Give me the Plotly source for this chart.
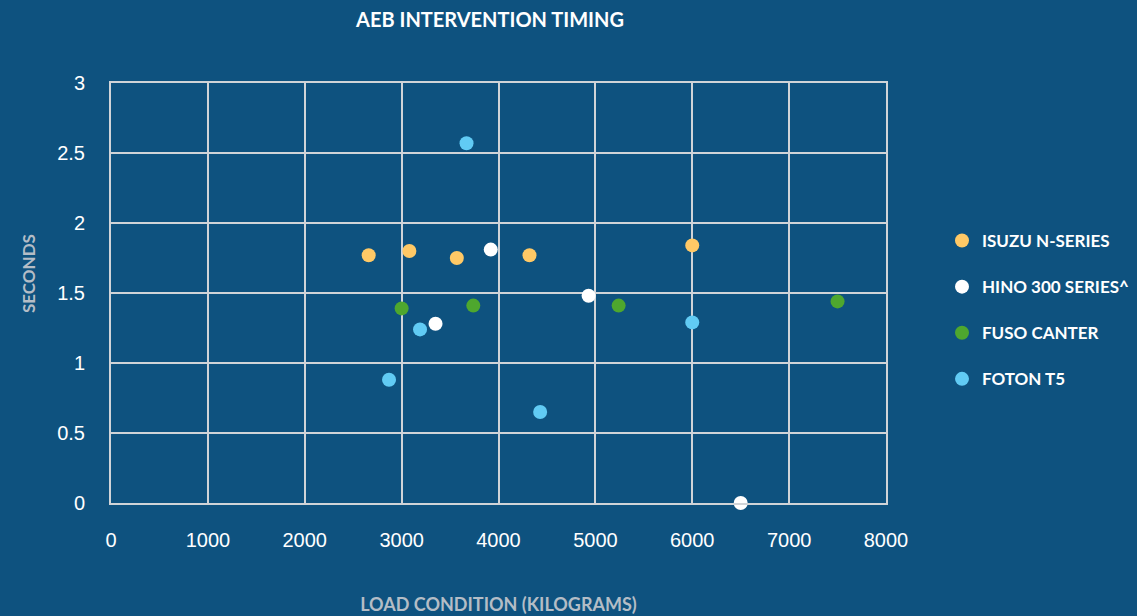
import plotly.graph_objects as go

series_names = ["ISUZU N-SERIES", "HINO 300 SERIES^", "FUSO CANTER", "FOTON T5"]
series_colors = ["#FFC966", "#FFFFFF", "#4EA72E", "#61CBF4"]

isuzu_x = [2660, 3080, 3570, 4320, 6000]
isuzu_y = [1.77, 1.80, 1.75, 1.77, 1.84]
hino_x = [3350, 3920, 4930, 6500]
hino_y = [1.28, 1.81, 1.48, 0.0]
fuso_x = [3000, 3740, 5240, 7500]
fuso_y = [1.39, 1.41, 1.41, 1.44]
foton_x = [2870, 3190, 3670, 4430, 6000]
foton_y = [0.88, 1.24, 2.57, 0.65, 1.29]

xs = [isuzu_x, hino_x, fuso_x, foton_x]
ys = [isuzu_y, hino_y, fuso_y, foton_y]

bg = "#0E527F"
grid = "#D0D4D8"

W, H = 1137, 616
L, R, T, B = 111, 251, 83, 113
pw, ph = W - L - R, H - T - B

fig = go.Figure()
for name, color, x, y in zip(series_names, series_colors, xs, ys):
    fig.add_trace(go.Scatter(
        x=x, y=y, mode="markers", name=name, legendgroup=name,
        marker=dict(size=14, color=color, line=dict(width=0)),
        cliponaxis=False,
    ))

fig.update_layout(
    width=W, height=H,
    paper_bgcolor=bg, plot_bgcolor=bg,
    margin=dict(l=L, r=R, t=T, b=B, autoexpand=False),
    title=dict(text="<b>AEB INTERVENTION TIMING</b>", x=490 / W, xanchor="center",
               y=1 - 20 / H, yanchor="middle",
               font=dict(family="Lato", size=20, color="#FFFFFF")),
    xaxis=dict(range=[0, 8000], dtick=1000, showgrid=True, gridcolor=grid, gridwidth=2,
               showline=True, linecolor=grid, linewidth=2, mirror=True, zeroline=False,
               ticks="", ticklabelstandoff=18,
               tickfont=dict(family="Liberation Sans", size=20, color="#FFFFFF"),
               title=dict(text="<b>LOAD CONDITION (KILOGRAMS)</b>", standoff=48,
                          font=dict(family="Lato", size=18, color="#B4BDC6"))),
    yaxis=dict(range=[0, 3], dtick=0.5, showgrid=True, gridcolor=grid, gridwidth=2,
               showline=True, linecolor=grid, linewidth=2, mirror=True, zeroline=False,
               ticks="", ticklabelstandoff=20,
               tickfont=dict(family="Liberation Sans", size=20, color="#FFFFFF")),
    annotations=[dict(text="<b>SECONDS</b>", xref="paper", yref="paper",
                      x=(28 - L) / pw, y=(H - B - 274) / ph, textangle=-90,
                      showarrow=False, xanchor="center", yanchor="middle",
                      font=dict(family="Lato", size=17, color="#B4BDC6"))],
    legend=dict(x=(942 - L) / pw, xanchor="left", y=(H - B - 223) / ph,
                yanchor="top",
                font=dict(family="Lato", size=17, color="#FFFFFF", weight="bold"),
                tracegroupgap=21, bgcolor="rgba(0,0,0,0)"),
    showlegend=True,
)
fig.write_html("out.html", config={"displayModeBar": False},
               post_script="document.body.style.margin='0';")
